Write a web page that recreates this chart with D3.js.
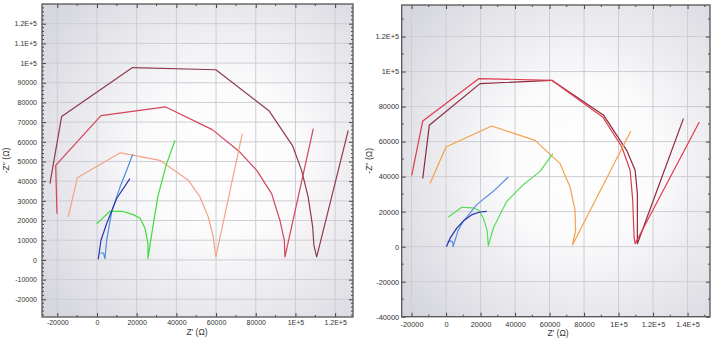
<!DOCTYPE html>
<html><head><meta charset="utf-8">
<script src="https://cdn.jsdelivr.net/npm/d3@7"></script>
<style>body{margin:0;background:#fff}svg{display:block}</style>
</head><body>
<svg id="c" width="727" height="342"></svg>
<script>
// ---------- data (Z' , -Z'') ----------
// left panel
const leftMaroon = [[-23700,38800],[-17800,72900],[17900,97700],[59900,96600],[86800,75600],[98600,57900],[103100,45500],[106400,32000],[108700,16700],[109300,7500],[110700,1500],[126600,65800]];
const leftRed = [[-20150,23500],[-20800,48000],[2000,73300],[34600,77700],[58100,66200],[72000,54800],[80500,45500],[88000,33700],[92200,20000],[94400,10000],[94700,1500],[109000,66700]];
const leftPeach = [[-14500,21800],[-9900,41700],[11800,54400],[31700,50600],[46000,40500],[51900,32000],[56100,21800],[58600,11700],[59900,1500],[73200,64200]];
const leftGreen = [[-150,18300],[6500,24700],[12600,24700],[18300,23000],[21700,21200],[24200,16100],[25700,8000],[25700,700],[27700,14000],[30700,32300],[34800,48000],[39300,60800]];
const leftBlue = [[1500,3500],[3300,3500],[4000,600],[4900,10000],[7400,24400],[11600,37000],[15300,46400],[18000,53700]];
const leftNavy = [[650,350],[2000,10000],[4900,18500],[9900,31200],[16600,41300]];
// right panel
const rightRed = [[-19900,40700],[-13500,71800],[19100,96000],[61300,95000],[90800,74100],[101900,56900],[106700,43600],[108200,26500],[109000,5500],[109600,1700],[146800,71200]];
const rightMaroon = [[-13500,38900],[-9700,69300],[19700,93100],[61300,95000],[91400,75000],[104700,55000],[109600,43600],[110900,30300],[110900,1700],[137600,73100]];
const rightOrange = [[-9300,36000],[0,56900],[26500,68900],[51600,60700],[66100,47400],[71900,34100],[74800,20700],[75100,9300],[73300,1000],[107100,66000]];
const rightGreen = [[1300,16900],[9100,22500],[15100,22200],[18700,21100],[21600,16300],[23800,9300],[24500,500],[27400,10600],[35200,25900],[44800,35400],[54500,43000],[61900,53100]];
const rightBlue = [[900,2500],[2300,3300],[3800,2700],[4100,0],[7000,9300],[10000,14500],[17800,24000],[27400,31600],[36100,39800]];
const rightNavy = [[200,0],[2300,4700],[6200,10600],[10400,15000],[15100,18300],[19700,19800],[23600,20200]];
// tick values
const leftXTicks = [-20000,0,20000,40000,60000,80000,100000,120000];
const leftYTicks = [-20000,-10000,0,10000,20000,30000,40000,50000,60000,70000,80000,90000,100000,110000,120000];
const rightXTicks = [-20000,0,20000,40000,60000,80000,100000,120000,140000];
const rightYTicks = [-40000,-20000,0,20000,40000,60000,80000,100000,120000];

const fmt = v => Math.abs(v) >= 100000 ? (v/100000) + "E+5" : String(v);
const svg = d3.select("#c");
const FONT = "'Liberation Sans', Arial, sans-serif";

const defs = svg.append("defs");
const grad = defs.append("radialGradient").attr("id","bg").attr("cx","0.58").attr("cy","0.5").attr("r","0.72");
grad.append("stop").attr("offset","0").attr("stop-color","#ffffff");
grad.append("stop").attr("offset","0.35").attr("stop-color","#fbfbfc");
grad.append("stop").attr("offset","1").attr("stop-color","#d6d6de");

function panel(cfg){
  const x = d3.scaleLinear().domain(cfg.xd).range([cfg.x0, cfg.x1]);
  const y = d3.scaleLinear().domain(cfg.yd).range([cfg.y1, cfg.y0]);
  const g = svg.append("g");
  g.append("rect").attr("x",cfg.x0).attr("y",cfg.y0).attr("width",cfg.x1-cfg.x0).attr("height",cfg.y1-cfg.y0).attr("fill","url(#bg)");
  const clipId = "clip"+cfg.id;
  defs.append("clipPath").attr("id",clipId).append("rect").attr("x",cfg.x0).attr("y",cfg.y0).attr("width",cfg.x1-cfg.x0).attr("height",cfg.y1-cfg.y0);
  // grid
  g.append("g").selectAll("line").data(cfg.xt).join("line")
    .attr("x1",d=>x(d)).attr("x2",d=>x(d)).attr("y1",cfg.y0).attr("y2",cfg.y1)
    .attr("stroke","#cdcdd4").attr("stroke-width",1);
  g.append("g").selectAll("line").data(cfg.yt).join("line")
    .attr("y1",d=>y(d)).attr("y2",d=>y(d)).attr("x1",cfg.x0).attr("x2",cfg.x1)
    .attr("stroke","#cdcdd4").attr("stroke-width",1);
  // series
  const line = d3.line().x(d=>x(d[0])).y(d=>y(d[1]));
  const sg = g.append("g").attr("clip-path",`url(#${clipId})`);
  cfg.series.forEach(s=>{
    sg.append("path").attr("d",line(s.data)).attr("fill","none").attr("stroke",s.color).attr("stroke-width",1.2).attr("stroke-linejoin","round");
  });
  // axes (ticks inside)
  const ax = g.append("g").attr("color","#444").attr("font-family",FONT);
  const bottom = d3.axisBottom(x).tickValues(cfg.xt).tickSize(-4).tickFormat(fmt).tickPadding(7);
  const bAx = ax.append("g").attr("transform",`translate(0,${cfg.y1})`).call(bottom);
  bAx.select(".domain").remove();
  bAx.selectAll("text").attr("font-size",cfg.fs).attr("fill","#333").attr("dy",null).attr("y",cfg.xly-cfg.y1).attr("dominant-baseline","middle");
  const left = d3.axisLeft(y).tickValues(cfg.yt).tickSize(-4).tickFormat(fmt).tickPadding(cfg.lpad);
  const lAx = ax.append("g").attr("transform",`translate(${cfg.x0},0)`).call(left);
  lAx.select(".domain").remove();
  lAx.selectAll("text").attr("font-size",cfg.fs).attr("fill","#333");
  const top = d3.axisTop(x).tickValues(cfg.xt).tickSize(-4).tickFormat("");
  ax.append("g").attr("transform",`translate(0,${cfg.y0})`).call(top).select(".domain").remove();
  const right = d3.axisRight(y).tickValues(cfg.yt).tickSize(-4).tickFormat("");
  ax.append("g").attr("transform",`translate(${cfg.x1},0)`).call(right).select(".domain").remove();
  // minor ticks
  const mx = d3.range(cfg.xd[0] - cfg.xd[0]%cfg.xm, cfg.xd[1], cfg.xm).filter(v=>!cfg.xt.includes(v) && v>cfg.xd[0]);
  const my = d3.range(cfg.yd[0] - cfg.yd[0]%cfg.ym, cfg.yd[1], cfg.ym).filter(v=>!cfg.yt.includes(v) && v>cfg.yd[0]);
  const mg = g.append("g").attr("stroke","#444").attr("stroke-width",1);
  mx.forEach(v=>{
    mg.append("line").attr("x1",x(v)).attr("x2",x(v)).attr("y1",cfg.y1).attr("y2",cfg.y1-2);
    mg.append("line").attr("x1",x(v)).attr("x2",x(v)).attr("y1",cfg.y0).attr("y2",cfg.y0+2);
  });
  my.forEach(v=>{
    mg.append("line").attr("y1",y(v)).attr("y2",y(v)).attr("x1",cfg.x0).attr("x2",cfg.x0+2);
    mg.append("line").attr("y1",y(v)).attr("y2",y(v)).attr("x1",cfg.x1).attr("x2",cfg.x1-2);
  });
  // frame
  g.append("rect").attr("x",cfg.x0).attr("y",cfg.y0).attr("width",cfg.x1-cfg.x0).attr("height",cfg.y1-cfg.y0)
    .attr("fill","none").attr("stroke","#555").attr("stroke-width",1.3);
  // titles
  g.append("text").attr("x",cfg.xtx).attr("y",cfg.xty).attr("text-anchor","middle").attr("dominant-baseline","middle")
    .attr("font-family",FONT).attr("font-size",8.5).attr("fill","#333").text("Z' (Ω)");
  g.append("text").attr("transform",`translate(${cfg.ytx},${(cfg.y0+cfg.y1)/2}) rotate(-90)`).attr("text-anchor","middle").attr("dominant-baseline","middle")
    .attr("font-family",FONT).attr("font-size",8.5).attr("fill","#333").text("-Z'' (Ω)");
}

panel({id:"L", x0:42, x1:353, y0:4, y1:317, xd:[-27700,129000], yd:[-29000,130000],
  xt:leftXTicks, yt:leftYTicks, xm:10000, ym:2000, fs:7, lpad:5, xly:323, xtx:197, xty:333, ytx:7,
  series:[
    {data:leftMaroon, color:"#8e3b4c"},
    {data:leftRed, color:"#d2455a"},
    {data:leftPeach, color:"#f3a386"},
    {data:leftGreen, color:"#3edc3e"},
    {data:leftBlue, color:"#4a8fe0"},
    {data:leftNavy, color:"#2a36b0"}
  ]});

panel({id:"R", x0:401.7, x1:710, y0:5, y1:316.7, xd:[-25700,153000], yd:[-40000,138000],
  xt:rightXTicks, yt:rightYTicks, xm:10000, ym:10000, fs:7.4, lpad:2.5, xly:325, xtx:558, xty:334, ytx:370,
  series:[
    {data:rightMaroon, color:"#8e2a3c"},
    {data:rightRed, color:"#e03a4c"},
    {data:rightOrange, color:"#f4a24a"},
    {data:rightGreen, color:"#58dc58"},
    {data:rightBlue, color:"#5a8ee0"},
    {data:rightNavy, color:"#2434a8"}
  ]});
</script>
</body></html>
